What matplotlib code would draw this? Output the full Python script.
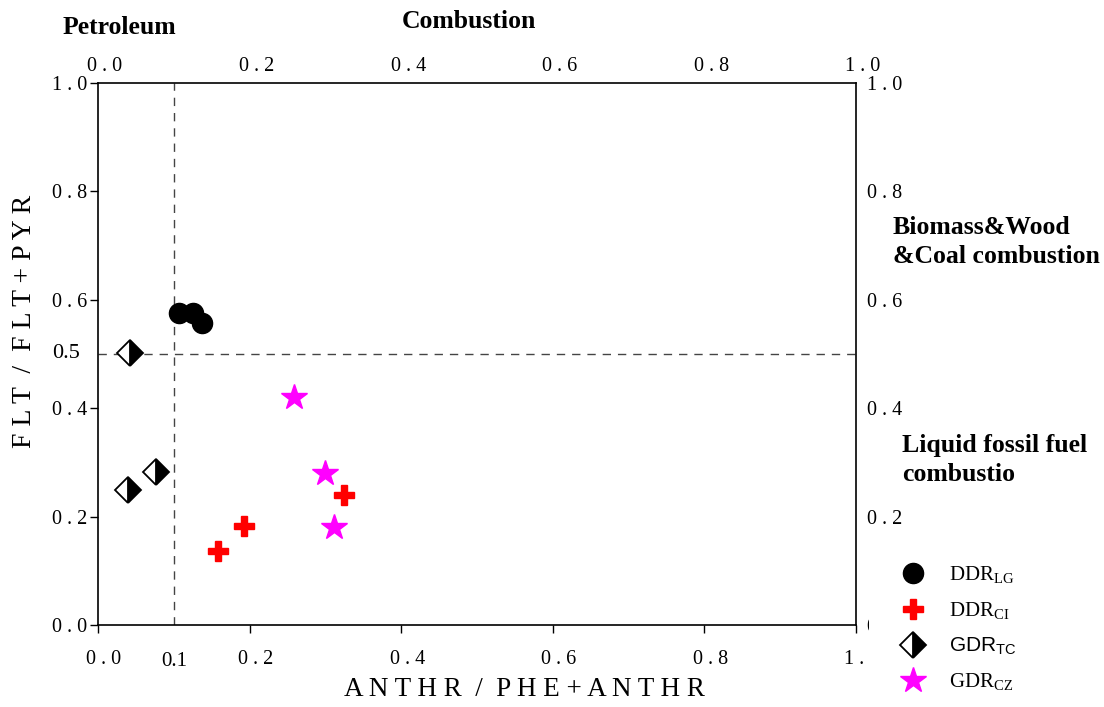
import matplotlib
matplotlib.use("Agg")
import matplotlib.pyplot as plt
from matplotlib.lines import Line2D
from matplotlib.patches import Rectangle
from matplotlib.transforms import ScaledTranslation

# PAH diagnostic ratios per site group
groups = ["DDR_LG", "DDR_CI", "GDR_TC", "GDR_CZ"]
anthr_ratio = {
    "DDR_LG": [0.107, 0.125, 0.137],
    "DDR_CI": [0.158, 0.192, 0.325],
    "GDR_TC": [0.042, 0.077, 0.039],
    "GDR_CZ": [0.259, 0.299, 0.312],
}
flt_ratio = {
    "DDR_LG": [0.575, 0.575, 0.557],
    "DDR_CI": [0.137, 0.183, 0.240],
    "GDR_TC": [0.501, 0.283, 0.250],
    "GDR_CZ": [0.421, 0.281, 0.181],
}
legend_labels = [r"DDR$_\mathregular{LG}$", r"DDR$_\mathregular{CI}$",
                 r"GDR$_\mathregular{TC}$", r"GDR$_\mathregular{CZ}$"]
legend_fonts = ["Liberation Serif", "Liberation Serif", "Liberation Sans", "Liberation Serif"]

tick_values = [0.0, 0.2, 0.4, 0.6, 0.8, 1.0]
tick_labels = ["0 . 0", "0 . 2", "0 . 4", "0 . 6", "0 . 8", "1 . 0"]
x_threshold = 0.1
y_threshold = 0.5

styles = {
    "DDR_LG": dict(marker="o", markersize=14.5, color="black"),
    "DDR_CI": dict(marker="P", markersize=15, color="#ff0000"),
    "GDR_TC": dict(marker="D", markersize=13, color="black", fillstyle="right",
                   markerfacecoloralt="white", markeredgecolor="black", markeredgewidth=1.3),
    "GDR_CZ": dict(marker="*", markersize=19, color="#ff00ff"),
}

plt.rcParams["font.family"] = ["Liberation Serif", "DejaVu Serif"]
plt.rcParams["mathtext.fontset"] = "custom"

fig = plt.figure(figsize=(11.04, 7.07), dpi=100)
ax = fig.add_axes([98 / 1104, 1 - 625 / 707, (856 - 98) / 1104, (625 - 83) / 707])

for g in groups:
    ax.plot(anthr_ratio[g], flt_ratio[g], linestyle="none", zorder=3, **styles[g])

ax.axvline(x_threshold, color="#444444", linestyle=(0, (6, 5)), linewidth=1.0, zorder=1)
ax.axhline(y_threshold, color="#444444", linestyle=(0, (6, 5)), linewidth=1.0, zorder=1)

ax.set_xlim(0, 1)
ax.set_ylim(0, 1)
for side in ax.spines.values():
    side.set_linewidth(1.2)

ax.set_xticks(tick_values)
ax.set_xticklabels(tick_labels)
ax.set_yticks(tick_values)
ax.set_yticklabels(tick_labels)
ax.tick_params(axis="both", direction="out", length=6, width=1.0, labelsize=14.5, colors="black")
ax.tick_params(axis="x", top=False, labeltop=True, bottom=True, pad=12)
ax.tick_params(axis="y", right=False, labelright=True, left=True, pad=2)

# nudge x labels right; top row sits closer to the frame
bottom_shift = ScaledTranslation(6 / 100, 0, fig.dpi_scale_trans)
top_shift = ScaledTranslation(7 / 100, -18 / 100, fig.dpi_scale_trans)
for t in ax.xaxis.get_major_ticks():
    t.label1.set_transform(t.label1.get_transform() + bottom_shift)
    t.label2.set_transform(t.label2.get_transform() + top_shift)
for t in ax.yaxis.get_major_ticks():
    t.label2.set_horizontalalignment("left")

# threshold values written next to the dashed lines
ax.text(x_threshold, -0.05, "0.1", transform=ax.transAxes, ha="center", va="top", fontsize=15)
ax.text(-0.024, y_threshold, "0.5", transform=ax.transAxes, ha="right", va="center", fontsize=16)

fig.text(524 / 1104, 1 - 690 / 707, "A N T H R  /  P H E + A N T H R", ha="center", va="center",
         fontsize=19.5)
fig.text(25 / 1104, 1 - 321 / 707, "F L T  /  F L T + P Y R", ha="center", va="center",
         rotation=90, fontsize=20)

bold = dict(fontsize=18.5, fontweight="bold", va="center", ha="left")
fig.text(63 / 1104, 1 - 28 / 707, "Petroleum", **bold)
fig.text(402 / 1104, 1 - 21 / 707, "Combustion", **bold)
fig.text(893 / 1104, 1 - 242 / 707, "Biomass&Wood\n&Coal combustion", linespacing=1.3, **bold)
fig.text(902 / 1104, 1 - 460 / 707, "Liquid fossil fuel\ncombustio", linespacing=1.3, **bold)

# white panel behind the legend, over the corner tick labels
fig.add_artist(Rectangle((869 / 1104, 0), 235 / 1104, 1 - 535 / 707, transform=fig.transFigure,
                         facecolor="white", edgecolor="none", zorder=4))

handles = [Line2D([], [], linestyle="none", **styles[g]) for g in groups]
leg = fig.legend(handles, legend_labels, loc="upper left", bbox_to_anchor=(884 / 1104, 1 - 556 / 707),
                 frameon=False, fontsize=15, labelspacing=0.68, handletextpad=0.7,
                 borderpad=0.4, borderaxespad=0)
leg.set_zorder(5)
for txt, fam in zip(leg.get_texts(), legend_fonts):
    txt.set_family(fam)

fig.savefig("out.png", dpi=100)
